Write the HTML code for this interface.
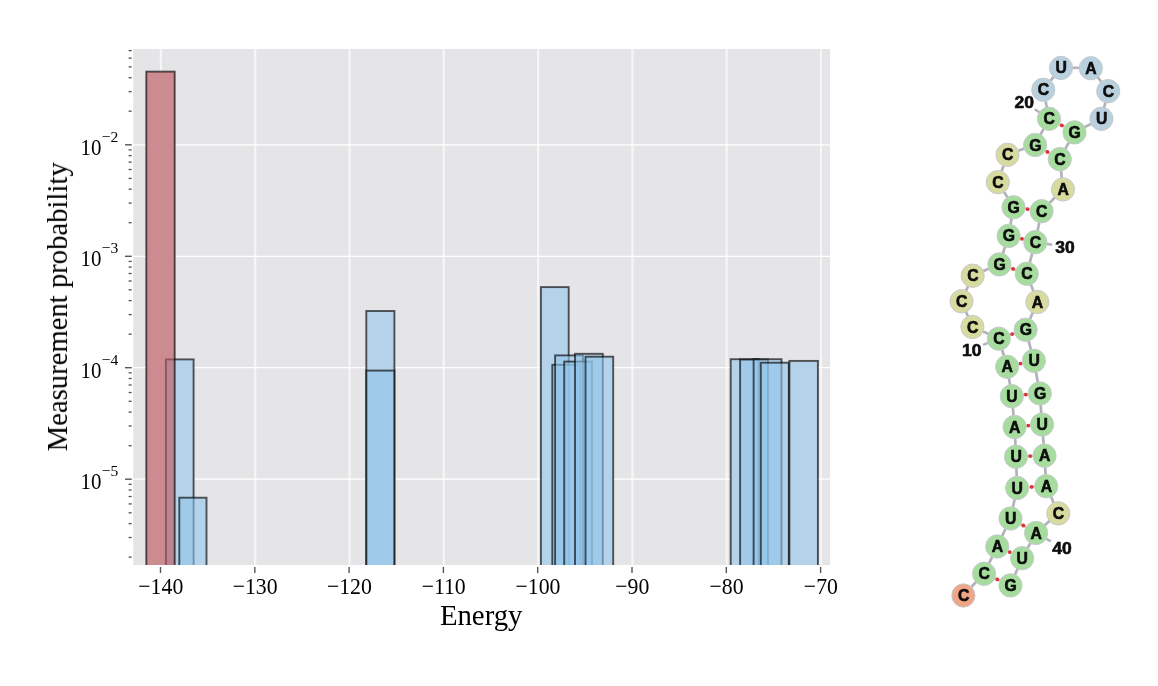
<!DOCTYPE html><html><head><meta charset="utf-8"><style>
html,body{margin:0;padding:0;background:#fff;}body{width:1158px;height:686px;overflow:hidden;position:relative;}
svg{position:absolute;left:0;top:0;}
text{font-family:"Liberation Serif",serif;fill:#000;}
.n text{font-family:"Liberation Sans",sans-serif;font-weight:bold;fill:#0a0a0a;stroke:#0a0a0a;stroke-width:0.55px;}
</style></head><body>
<svg width="1158" height="686" viewBox="0 0 1158 686">
<defs><clipPath id="cp"><rect x="133.2" y="49.0" width="696.8" height="516.0"/></clipPath>
<filter id="bl" x="-5%" y="-5%" width="110%" height="110%"><feGaussianBlur stdDeviation="0.55"/></filter>
<filter id="bl2" x="-5%" y="-5%" width="110%" height="110%"><feGaussianBlur stdDeviation="0.7"/></filter></defs>
<g filter="url(#bl)">
<rect x="133.2" y="49.0" width="696.8" height="516.0" fill="#e5e4e7"/>
<line x1="160.9" y1="49.0" x2="160.9" y2="565.0" stroke="#fff" stroke-opacity="0.66" stroke-width="2.2"/>
<line x1="255.2" y1="49.0" x2="255.2" y2="565.0" stroke="#fff" stroke-opacity="0.66" stroke-width="2.2"/>
<line x1="349.5" y1="49.0" x2="349.5" y2="565.0" stroke="#fff" stroke-opacity="0.66" stroke-width="2.2"/>
<line x1="443.8" y1="49.0" x2="443.8" y2="565.0" stroke="#fff" stroke-opacity="0.66" stroke-width="2.2"/>
<line x1="538.1" y1="49.0" x2="538.1" y2="565.0" stroke="#fff" stroke-opacity="0.66" stroke-width="2.2"/>
<line x1="632.4" y1="49.0" x2="632.4" y2="565.0" stroke="#fff" stroke-opacity="0.66" stroke-width="2.2"/>
<line x1="726.7" y1="49.0" x2="726.7" y2="565.0" stroke="#fff" stroke-opacity="0.66" stroke-width="2.2"/>
<line x1="821.0" y1="49.0" x2="821.0" y2="565.0" stroke="#fff" stroke-opacity="0.66" stroke-width="2.2"/>
<line x1="133.2" y1="479.2" x2="830.0" y2="479.2" stroke="#fff" stroke-width="1.25"/>
<line x1="133.2" y1="367.7" x2="830.0" y2="367.7" stroke="#fff" stroke-width="1.25"/>
<line x1="133.2" y1="256.3" x2="830.0" y2="256.3" stroke="#fff" stroke-width="1.25"/>
<line x1="133.2" y1="144.8" x2="830.0" y2="144.8" stroke="#fff" stroke-width="1.25"/>
<g clip-path="url(#cp)">
<rect x="165.9" y="359.4" width="27.7" height="216.6" fill="#e5e4e7"/>
<rect x="179.3" y="497.7" width="27.2" height="78.3" fill="#e5e4e7"/>
<rect x="366.3" y="311.0" width="28.1" height="265.0" fill="#e5e4e7"/>
<rect x="366.3" y="370.6" width="28.1" height="205.4" fill="#e5e4e7"/>
<rect x="540.9" y="287.1" width="27.8" height="288.9" fill="#e5e4e7"/>
<rect x="552.3" y="364.8" width="28.0" height="211.2" fill="#e5e4e7"/>
<rect x="555.1" y="355.4" width="27.9" height="220.6" fill="#e5e4e7"/>
<rect x="564.2" y="361.6" width="27.8" height="214.4" fill="#e5e4e7"/>
<rect x="575.0" y="353.8" width="27.8" height="222.2" fill="#e5e4e7"/>
<rect x="585.5" y="356.7" width="27.7" height="219.3" fill="#e5e4e7"/>
<rect x="730.7" y="359.2" width="28.0" height="216.8" fill="#e5e4e7"/>
<rect x="740.1" y="359.5" width="27.9" height="216.5" fill="#e5e4e7"/>
<rect x="753.6" y="359.2" width="27.9" height="216.8" fill="#e5e4e7"/>
<rect x="760.8" y="362.7" width="28.0" height="213.3" fill="#e5e4e7"/>
<rect x="789.4" y="360.9" width="28.5" height="215.1" fill="#e5e4e7"/>
<rect x="146.3" y="71.6" width="28.4" height="504.4" fill="#e5e4e7"/>
<rect x="165.9" y="359.4" width="27.7" height="216.6" fill="rgba(144,196,235,0.58)" stroke="rgba(0,0,0,0.64)" stroke-width="1.9"/>
<rect x="179.3" y="497.7" width="27.2" height="78.3" fill="rgba(144,196,235,0.58)" stroke="rgba(0,0,0,0.64)" stroke-width="1.9"/>
<rect x="366.3" y="311.0" width="28.1" height="265.0" fill="rgba(144,196,235,0.58)" stroke="rgba(0,0,0,0.64)" stroke-width="1.9"/>
<rect x="366.3" y="370.6" width="28.1" height="205.4" fill="rgba(144,196,235,0.58)" stroke="rgba(0,0,0,0.64)" stroke-width="1.9"/>
<rect x="540.9" y="287.1" width="27.8" height="288.9" fill="rgba(144,196,235,0.58)" stroke="rgba(0,0,0,0.64)" stroke-width="1.9"/>
<rect x="552.3" y="364.8" width="28.0" height="211.2" fill="rgba(144,196,235,0.58)" stroke="rgba(0,0,0,0.64)" stroke-width="1.9"/>
<rect x="555.1" y="355.4" width="27.9" height="220.6" fill="rgba(144,196,235,0.58)" stroke="rgba(0,0,0,0.64)" stroke-width="1.9"/>
<rect x="564.2" y="361.6" width="27.8" height="214.4" fill="rgba(144,196,235,0.58)" stroke="rgba(0,0,0,0.64)" stroke-width="1.9"/>
<rect x="575.0" y="353.8" width="27.8" height="222.2" fill="rgba(144,196,235,0.58)" stroke="rgba(0,0,0,0.64)" stroke-width="1.9"/>
<rect x="585.5" y="356.7" width="27.7" height="219.3" fill="rgba(144,196,235,0.58)" stroke="rgba(0,0,0,0.64)" stroke-width="1.9"/>
<rect x="730.7" y="359.2" width="28.0" height="216.8" fill="rgba(144,196,235,0.58)" stroke="rgba(0,0,0,0.64)" stroke-width="1.9"/>
<rect x="740.1" y="359.5" width="27.9" height="216.5" fill="rgba(144,196,235,0.58)" stroke="rgba(0,0,0,0.64)" stroke-width="1.9"/>
<rect x="753.6" y="359.2" width="27.9" height="216.8" fill="rgba(144,196,235,0.58)" stroke="rgba(0,0,0,0.64)" stroke-width="1.9"/>
<rect x="760.8" y="362.7" width="28.0" height="213.3" fill="rgba(144,196,235,0.58)" stroke="rgba(0,0,0,0.64)" stroke-width="1.9"/>
<rect x="789.4" y="360.9" width="28.5" height="215.1" fill="rgba(144,196,235,0.58)" stroke="rgba(0,0,0,0.64)" stroke-width="1.9"/>
<rect x="146.3" y="71.6" width="28.4" height="504.4" fill="rgba(189,87,97,0.64)" stroke="rgba(0,0,0,0.64)" stroke-width="1.9"/>
</g>
<line x1="160.5" y1="567.0" x2="160.5" y2="573.0" stroke="#555" stroke-width="1.4"/>
<text transform="translate(160.8,593.9) scale(0.99,1.09)" font-size="22" text-anchor="middle">−140</text>
<line x1="254.8" y1="567.0" x2="254.8" y2="573.0" stroke="#555" stroke-width="1.4"/>
<text transform="translate(255.1,593.9) scale(0.99,1.09)" font-size="22" text-anchor="middle">−130</text>
<line x1="349.1" y1="567.0" x2="349.1" y2="573.0" stroke="#555" stroke-width="1.4"/>
<text transform="translate(349.4,593.9) scale(0.99,1.09)" font-size="22" text-anchor="middle">−120</text>
<line x1="443.4" y1="567.0" x2="443.4" y2="573.0" stroke="#555" stroke-width="1.4"/>
<text transform="translate(443.7,593.9) scale(0.99,1.09)" font-size="22" text-anchor="middle">−110</text>
<line x1="537.7" y1="567.0" x2="537.7" y2="573.0" stroke="#555" stroke-width="1.4"/>
<text transform="translate(538.0,593.9) scale(0.99,1.09)" font-size="22" text-anchor="middle">−100</text>
<line x1="632.0" y1="567.0" x2="632.0" y2="573.0" stroke="#555" stroke-width="1.4"/>
<text transform="translate(632.3,593.9) scale(0.99,1.09)" font-size="22" text-anchor="middle">−90</text>
<line x1="726.3" y1="567.0" x2="726.3" y2="573.0" stroke="#555" stroke-width="1.4"/>
<text transform="translate(726.6,593.9) scale(0.99,1.09)" font-size="22" text-anchor="middle">−80</text>
<line x1="820.6" y1="567.0" x2="820.6" y2="573.0" stroke="#555" stroke-width="1.4"/>
<text transform="translate(820.9,593.9) scale(0.99,1.09)" font-size="22" text-anchor="middle">−70</text>
<line x1="125.0" y1="479.2" x2="131.7" y2="479.2" stroke="#555" stroke-width="1.4"/>
<text transform="translate(80.6,489.3) scale(0.95,1.06)" font-size="22">10</text>
<text x="101.8" y="476.3" font-size="15.6">−5</text>
<line x1="125.0" y1="367.7" x2="131.7" y2="367.7" stroke="#555" stroke-width="1.4"/>
<text transform="translate(80.6,377.8) scale(0.95,1.06)" font-size="22">10</text>
<text x="101.8" y="364.8" font-size="15.6">−4</text>
<line x1="125.0" y1="256.3" x2="131.7" y2="256.3" stroke="#555" stroke-width="1.4"/>
<text transform="translate(80.6,266.4) scale(0.95,1.06)" font-size="22">10</text>
<text x="101.8" y="253.4" font-size="15.6">−3</text>
<line x1="125.0" y1="144.8" x2="131.7" y2="144.8" stroke="#555" stroke-width="1.4"/>
<text transform="translate(80.6,154.9) scale(0.95,1.06)" font-size="22">10</text>
<text x="101.8" y="141.9" font-size="15.6">−2</text>
<line x1="128.6" y1="557.1" x2="131.7" y2="557.1" stroke="#555" stroke-width="1.3"/>
<line x1="128.6" y1="537.5" x2="131.7" y2="537.5" stroke="#555" stroke-width="1.3"/>
<line x1="128.6" y1="523.6" x2="131.7" y2="523.6" stroke="#555" stroke-width="1.3"/>
<line x1="128.6" y1="512.8" x2="131.7" y2="512.8" stroke="#555" stroke-width="1.3"/>
<line x1="128.6" y1="503.9" x2="131.7" y2="503.9" stroke="#555" stroke-width="1.3"/>
<line x1="128.6" y1="496.5" x2="131.7" y2="496.5" stroke="#555" stroke-width="1.3"/>
<line x1="128.6" y1="490.0" x2="131.7" y2="490.0" stroke="#555" stroke-width="1.3"/>
<line x1="128.6" y1="484.3" x2="131.7" y2="484.3" stroke="#555" stroke-width="1.3"/>
<line x1="128.6" y1="445.7" x2="131.7" y2="445.7" stroke="#555" stroke-width="1.3"/>
<line x1="128.6" y1="426.0" x2="131.7" y2="426.0" stroke="#555" stroke-width="1.3"/>
<line x1="128.6" y1="412.1" x2="131.7" y2="412.1" stroke="#555" stroke-width="1.3"/>
<line x1="128.6" y1="401.3" x2="131.7" y2="401.3" stroke="#555" stroke-width="1.3"/>
<line x1="128.6" y1="392.5" x2="131.7" y2="392.5" stroke="#555" stroke-width="1.3"/>
<line x1="128.6" y1="385.0" x2="131.7" y2="385.0" stroke="#555" stroke-width="1.3"/>
<line x1="128.6" y1="378.5" x2="131.7" y2="378.5" stroke="#555" stroke-width="1.3"/>
<line x1="128.6" y1="372.8" x2="131.7" y2="372.8" stroke="#555" stroke-width="1.3"/>
<line x1="128.6" y1="334.2" x2="131.7" y2="334.2" stroke="#555" stroke-width="1.3"/>
<line x1="128.6" y1="314.6" x2="131.7" y2="314.6" stroke="#555" stroke-width="1.3"/>
<line x1="128.6" y1="300.6" x2="131.7" y2="300.6" stroke="#555" stroke-width="1.3"/>
<line x1="128.6" y1="289.8" x2="131.7" y2="289.8" stroke="#555" stroke-width="1.3"/>
<line x1="128.6" y1="281.0" x2="131.7" y2="281.0" stroke="#555" stroke-width="1.3"/>
<line x1="128.6" y1="273.5" x2="131.7" y2="273.5" stroke="#555" stroke-width="1.3"/>
<line x1="128.6" y1="267.1" x2="131.7" y2="267.1" stroke="#555" stroke-width="1.3"/>
<line x1="128.6" y1="261.4" x2="131.7" y2="261.4" stroke="#555" stroke-width="1.3"/>
<line x1="128.6" y1="222.7" x2="131.7" y2="222.7" stroke="#555" stroke-width="1.3"/>
<line x1="128.6" y1="203.1" x2="131.7" y2="203.1" stroke="#555" stroke-width="1.3"/>
<line x1="128.6" y1="189.2" x2="131.7" y2="189.2" stroke="#555" stroke-width="1.3"/>
<line x1="128.6" y1="178.4" x2="131.7" y2="178.4" stroke="#555" stroke-width="1.3"/>
<line x1="128.6" y1="169.5" x2="131.7" y2="169.5" stroke="#555" stroke-width="1.3"/>
<line x1="128.6" y1="162.1" x2="131.7" y2="162.1" stroke="#555" stroke-width="1.3"/>
<line x1="128.6" y1="155.6" x2="131.7" y2="155.6" stroke="#555" stroke-width="1.3"/>
<line x1="128.6" y1="149.9" x2="131.7" y2="149.9" stroke="#555" stroke-width="1.3"/>
<line x1="128.6" y1="111.2" x2="131.7" y2="111.2" stroke="#555" stroke-width="1.3"/>
<line x1="128.6" y1="91.6" x2="131.7" y2="91.6" stroke="#555" stroke-width="1.3"/>
<line x1="128.6" y1="77.7" x2="131.7" y2="77.7" stroke="#555" stroke-width="1.3"/>
<line x1="128.6" y1="66.9" x2="131.7" y2="66.9" stroke="#555" stroke-width="1.3"/>
<line x1="128.6" y1="58.1" x2="131.7" y2="58.1" stroke="#555" stroke-width="1.3"/>
<line x1="128.6" y1="50.6" x2="131.7" y2="50.6" stroke="#555" stroke-width="1.3"/>
<text x="481.2" y="625.3" font-size="28.8" text-anchor="middle">Energy</text>
<text transform="translate(67.0,306.8) rotate(-90)" font-size="28.7" text-anchor="middle">Measurement probability</text>
</g>
<g class="n" filter="url(#bl2)">
<line x1="963.4" y1="595.3" x2="984.1" y2="573.6" stroke="#b2b2ba" stroke-width="2.7"/>
<line x1="984.1" y1="573.6" x2="997.2" y2="546.3" stroke="#b2b2ba" stroke-width="2.7"/>
<line x1="997.2" y1="546.3" x2="1010.5" y2="518.3" stroke="#b2b2ba" stroke-width="2.7"/>
<line x1="1010.5" y1="518.3" x2="1017.1" y2="487.8" stroke="#b2b2ba" stroke-width="2.7"/>
<line x1="1017.1" y1="487.8" x2="1016.0" y2="456.6" stroke="#b2b2ba" stroke-width="2.7"/>
<line x1="1016.0" y1="456.6" x2="1014.6" y2="426.8" stroke="#b2b2ba" stroke-width="2.7"/>
<line x1="1014.6" y1="426.8" x2="1011.8" y2="396.0" stroke="#b2b2ba" stroke-width="2.7"/>
<line x1="1011.8" y1="396.0" x2="1007.1" y2="366.6" stroke="#b2b2ba" stroke-width="2.7"/>
<line x1="1007.1" y1="366.6" x2="998.8" y2="338.5" stroke="#b2b2ba" stroke-width="2.7"/>
<line x1="998.8" y1="338.5" x2="972.4" y2="326.8" stroke="#b2b2ba" stroke-width="2.7"/>
<line x1="972.4" y1="326.8" x2="961.5" y2="301.1" stroke="#b2b2ba" stroke-width="2.7"/>
<line x1="961.5" y1="301.1" x2="972.7" y2="275.5" stroke="#b2b2ba" stroke-width="2.7"/>
<line x1="972.7" y1="275.5" x2="999.4" y2="264.2" stroke="#b2b2ba" stroke-width="2.7"/>
<line x1="999.4" y1="264.2" x2="1008.6" y2="235.7" stroke="#b2b2ba" stroke-width="2.7"/>
<line x1="1008.6" y1="235.7" x2="1013.5" y2="207.1" stroke="#b2b2ba" stroke-width="2.7"/>
<line x1="1013.5" y1="207.1" x2="997.8" y2="182.0" stroke="#b2b2ba" stroke-width="2.7"/>
<line x1="997.8" y1="182.0" x2="1007.5" y2="154.6" stroke="#b2b2ba" stroke-width="2.7"/>
<line x1="1007.5" y1="154.6" x2="1035.1" y2="144.8" stroke="#b2b2ba" stroke-width="2.7"/>
<line x1="1035.1" y1="144.8" x2="1049.0" y2="118.6" stroke="#b2b2ba" stroke-width="2.7"/>
<line x1="1049.0" y1="118.6" x2="1043.3" y2="89.6" stroke="#b2b2ba" stroke-width="2.7"/>
<line x1="1043.3" y1="89.6" x2="1061.0" y2="67.7" stroke="#b2b2ba" stroke-width="2.7"/>
<line x1="1061.0" y1="67.7" x2="1090.8" y2="68.0" stroke="#b2b2ba" stroke-width="2.7"/>
<line x1="1090.8" y1="68.0" x2="1108.2" y2="91.0" stroke="#b2b2ba" stroke-width="2.7"/>
<line x1="1108.2" y1="91.0" x2="1101.4" y2="118.6" stroke="#b2b2ba" stroke-width="2.7"/>
<line x1="1101.4" y1="118.6" x2="1074.5" y2="132.2" stroke="#b2b2ba" stroke-width="2.7"/>
<line x1="1074.5" y1="132.2" x2="1059.8" y2="159.0" stroke="#b2b2ba" stroke-width="2.7"/>
<line x1="1059.8" y1="159.0" x2="1063.0" y2="189.2" stroke="#b2b2ba" stroke-width="2.7"/>
<line x1="1063.0" y1="189.2" x2="1041.6" y2="211.0" stroke="#b2b2ba" stroke-width="2.7"/>
<line x1="1041.6" y1="211.0" x2="1035.3" y2="242.0" stroke="#b2b2ba" stroke-width="2.7"/>
<line x1="1035.3" y1="242.0" x2="1026.8" y2="273.6" stroke="#b2b2ba" stroke-width="2.7"/>
<line x1="1026.8" y1="273.6" x2="1037.3" y2="301.8" stroke="#b2b2ba" stroke-width="2.7"/>
<line x1="1037.3" y1="301.8" x2="1025.6" y2="329.6" stroke="#b2b2ba" stroke-width="2.7"/>
<line x1="1025.6" y1="329.6" x2="1033.9" y2="360.6" stroke="#b2b2ba" stroke-width="2.7"/>
<line x1="1033.9" y1="360.6" x2="1039.8" y2="393.2" stroke="#b2b2ba" stroke-width="2.7"/>
<line x1="1039.8" y1="393.2" x2="1042.1" y2="424.4" stroke="#b2b2ba" stroke-width="2.7"/>
<line x1="1042.1" y1="424.4" x2="1044.5" y2="455.5" stroke="#b2b2ba" stroke-width="2.7"/>
<line x1="1044.5" y1="455.5" x2="1046.2" y2="486.0" stroke="#b2b2ba" stroke-width="2.7"/>
<line x1="1046.2" y1="486.0" x2="1058.3" y2="513.2" stroke="#b2b2ba" stroke-width="2.7"/>
<line x1="1058.3" y1="513.2" x2="1036.1" y2="532.8" stroke="#b2b2ba" stroke-width="2.7"/>
<line x1="1036.1" y1="532.8" x2="1022.1" y2="558.0" stroke="#b2b2ba" stroke-width="2.7"/>
<line x1="1022.1" y1="558.0" x2="1010.5" y2="585.2" stroke="#b2b2ba" stroke-width="2.7"/>
<line x1="984.1" y1="573.6" x2="1010.5" y2="585.2" stroke="#c8c8d0" stroke-width="2.5"/>
<line x1="997.2" y1="546.3" x2="1022.1" y2="558.0" stroke="#c8c8d0" stroke-width="2.5"/>
<line x1="1010.5" y1="518.3" x2="1036.1" y2="532.8" stroke="#c8c8d0" stroke-width="2.5"/>
<line x1="1017.1" y1="487.8" x2="1046.2" y2="486.0" stroke="#c8c8d0" stroke-width="2.5"/>
<line x1="1016.0" y1="456.6" x2="1044.5" y2="455.5" stroke="#c8c8d0" stroke-width="2.5"/>
<line x1="1014.6" y1="426.8" x2="1042.1" y2="424.4" stroke="#c8c8d0" stroke-width="2.5"/>
<line x1="1011.8" y1="396.0" x2="1039.8" y2="393.2" stroke="#c8c8d0" stroke-width="2.5"/>
<line x1="1007.1" y1="366.6" x2="1033.9" y2="360.6" stroke="#c8c8d0" stroke-width="2.5"/>
<line x1="998.8" y1="338.5" x2="1025.6" y2="329.6" stroke="#c8c8d0" stroke-width="2.5"/>
<line x1="999.4" y1="264.2" x2="1026.8" y2="273.6" stroke="#c8c8d0" stroke-width="2.5"/>
<line x1="1008.6" y1="235.7" x2="1035.3" y2="242.0" stroke="#c8c8d0" stroke-width="2.5"/>
<line x1="1013.5" y1="207.1" x2="1041.6" y2="211.0" stroke="#c8c8d0" stroke-width="2.5"/>
<line x1="1035.1" y1="144.8" x2="1059.8" y2="159.0" stroke="#c8c8d0" stroke-width="2.5"/>
<line x1="1049.0" y1="118.6" x2="1074.5" y2="132.2" stroke="#c8c8d0" stroke-width="2.5"/>
<line x1="998.8" y1="338.5" x2="983.1" y2="344.9" stroke="#b4b4bc" stroke-width="2.5"/>
<line x1="1049.0" y1="118.6" x2="1034.8" y2="109.2" stroke="#b4b4bc" stroke-width="2.5"/>
<line x1="1035.3" y1="242.0" x2="1052.1" y2="244.7" stroke="#b4b4bc" stroke-width="2.5"/>
<line x1="1036.1" y1="532.8" x2="1050.8" y2="541.4" stroke="#b4b4bc" stroke-width="2.5"/>
<circle cx="997.3" cy="579.4" r="1.9" fill="#e03030"/>
<circle cx="1009.7" cy="552.1" r="1.9" fill="#e03030"/>
<circle cx="1023.3" cy="525.5" r="1.9" fill="#e03030"/>
<circle cx="1031.7" cy="486.9" r="1.9" fill="#e03030"/>
<circle cx="1030.2" cy="456.1" r="1.9" fill="#e03030"/>
<circle cx="1028.3" cy="425.6" r="1.9" fill="#e03030"/>
<circle cx="1025.8" cy="394.6" r="1.9" fill="#e03030"/>
<circle cx="1020.5" cy="363.6" r="1.9" fill="#e03030"/>
<circle cx="1012.2" cy="334.1" r="1.9" fill="#e03030"/>
<circle cx="1013.1" cy="268.9" r="1.9" fill="#e03030"/>
<circle cx="1022.0" cy="238.8" r="1.9" fill="#e03030"/>
<circle cx="1027.5" cy="209.1" r="1.9" fill="#e03030"/>
<circle cx="1047.4" cy="151.9" r="1.9" fill="#e03030"/>
<circle cx="1061.8" cy="125.4" r="1.9" fill="#e03030"/>
<ellipse cx="963.4" cy="595.5" rx="11.6" ry="11.7" fill="#f0a686" stroke="#c6cace" stroke-width="1"/>
<ellipse cx="984.1" cy="573.8" rx="11.6" ry="11.7" fill="#a6dc9e" stroke="#c6cace" stroke-width="1"/>
<ellipse cx="997.2" cy="546.5" rx="11.6" ry="11.7" fill="#a6dc9e" stroke="#c6cace" stroke-width="1"/>
<ellipse cx="1010.5" cy="518.5" rx="11.6" ry="11.7" fill="#a6dc9e" stroke="#c6cace" stroke-width="1"/>
<ellipse cx="1017.1" cy="488.0" rx="11.6" ry="11.7" fill="#a6dc9e" stroke="#c6cace" stroke-width="1"/>
<ellipse cx="1016.0" cy="456.8" rx="11.6" ry="11.7" fill="#a6dc9e" stroke="#c6cace" stroke-width="1"/>
<ellipse cx="1014.6" cy="427.0" rx="11.6" ry="11.7" fill="#a6dc9e" stroke="#c6cace" stroke-width="1"/>
<ellipse cx="1011.8" cy="396.2" rx="11.6" ry="11.7" fill="#a6dc9e" stroke="#c6cace" stroke-width="1"/>
<ellipse cx="1007.1" cy="366.8" rx="11.6" ry="11.7" fill="#a6dc9e" stroke="#c6cace" stroke-width="1"/>
<ellipse cx="998.8" cy="338.7" rx="11.6" ry="11.7" fill="#a6dc9e" stroke="#c6cace" stroke-width="1"/>
<ellipse cx="972.4" cy="327.0" rx="11.6" ry="11.7" fill="#d8dba0" stroke="#c6cace" stroke-width="1"/>
<ellipse cx="961.5" cy="301.3" rx="11.6" ry="11.7" fill="#d8dba0" stroke="#c6cace" stroke-width="1"/>
<ellipse cx="972.7" cy="275.7" rx="11.6" ry="11.7" fill="#d8dba0" stroke="#c6cace" stroke-width="1"/>
<ellipse cx="999.4" cy="264.4" rx="11.6" ry="11.7" fill="#a6dc9e" stroke="#c6cace" stroke-width="1"/>
<ellipse cx="1008.6" cy="235.9" rx="11.6" ry="11.7" fill="#a6dc9e" stroke="#c6cace" stroke-width="1"/>
<ellipse cx="1013.5" cy="207.3" rx="11.6" ry="11.7" fill="#a6dc9e" stroke="#c6cace" stroke-width="1"/>
<ellipse cx="997.8" cy="182.2" rx="11.6" ry="11.7" fill="#d8dba0" stroke="#c6cace" stroke-width="1"/>
<ellipse cx="1007.5" cy="154.8" rx="11.6" ry="11.7" fill="#d8dba0" stroke="#c6cace" stroke-width="1"/>
<ellipse cx="1035.1" cy="145.0" rx="11.6" ry="11.7" fill="#a6dc9e" stroke="#c6cace" stroke-width="1"/>
<ellipse cx="1049.0" cy="118.8" rx="11.6" ry="11.7" fill="#a6dc9e" stroke="#c6cace" stroke-width="1"/>
<ellipse cx="1043.3" cy="89.8" rx="11.6" ry="11.7" fill="#b9d1de" stroke="#c6cace" stroke-width="1"/>
<ellipse cx="1061.0" cy="67.9" rx="11.6" ry="11.7" fill="#b9d1de" stroke="#c6cace" stroke-width="1"/>
<ellipse cx="1090.8" cy="68.2" rx="11.6" ry="11.7" fill="#b9d1de" stroke="#c6cace" stroke-width="1"/>
<ellipse cx="1108.2" cy="91.2" rx="11.6" ry="11.7" fill="#b9d1de" stroke="#c6cace" stroke-width="1"/>
<ellipse cx="1101.4" cy="118.8" rx="11.6" ry="11.7" fill="#b9d1de" stroke="#c6cace" stroke-width="1"/>
<ellipse cx="1074.5" cy="132.4" rx="11.6" ry="11.7" fill="#a6dc9e" stroke="#c6cace" stroke-width="1"/>
<ellipse cx="1059.8" cy="159.2" rx="11.6" ry="11.7" fill="#a6dc9e" stroke="#c6cace" stroke-width="1"/>
<ellipse cx="1063.0" cy="189.4" rx="11.6" ry="11.7" fill="#d8dba0" stroke="#c6cace" stroke-width="1"/>
<ellipse cx="1041.6" cy="211.2" rx="11.6" ry="11.7" fill="#a6dc9e" stroke="#c6cace" stroke-width="1"/>
<ellipse cx="1035.3" cy="242.2" rx="11.6" ry="11.7" fill="#a6dc9e" stroke="#c6cace" stroke-width="1"/>
<ellipse cx="1026.8" cy="273.8" rx="11.6" ry="11.7" fill="#a6dc9e" stroke="#c6cace" stroke-width="1"/>
<ellipse cx="1037.3" cy="302.0" rx="11.6" ry="11.7" fill="#d8dba0" stroke="#c6cace" stroke-width="1"/>
<ellipse cx="1025.6" cy="329.8" rx="11.6" ry="11.7" fill="#a6dc9e" stroke="#c6cace" stroke-width="1"/>
<ellipse cx="1033.9" cy="360.8" rx="11.6" ry="11.7" fill="#a6dc9e" stroke="#c6cace" stroke-width="1"/>
<ellipse cx="1039.8" cy="393.4" rx="11.6" ry="11.7" fill="#a6dc9e" stroke="#c6cace" stroke-width="1"/>
<ellipse cx="1042.1" cy="424.6" rx="11.6" ry="11.7" fill="#a6dc9e" stroke="#c6cace" stroke-width="1"/>
<ellipse cx="1044.5" cy="455.7" rx="11.6" ry="11.7" fill="#a6dc9e" stroke="#c6cace" stroke-width="1"/>
<ellipse cx="1046.2" cy="486.2" rx="11.6" ry="11.7" fill="#a6dc9e" stroke="#c6cace" stroke-width="1"/>
<ellipse cx="1058.3" cy="513.4" rx="11.6" ry="11.7" fill="#d8dba0" stroke="#c6cace" stroke-width="1"/>
<ellipse cx="1036.1" cy="533.0" rx="11.6" ry="11.7" fill="#a6dc9e" stroke="#c6cace" stroke-width="1"/>
<ellipse cx="1022.1" cy="558.2" rx="11.6" ry="11.7" fill="#a6dc9e" stroke="#c6cace" stroke-width="1"/>
<ellipse cx="1010.5" cy="585.4" rx="11.6" ry="11.7" fill="#a6dc9e" stroke="#c6cace" stroke-width="1"/>
<text transform="translate(963.6,601.0) scale(1.05,1.08)" font-size="15" text-anchor="middle">C</text>
<text transform="translate(984.3,579.3) scale(1.05,1.08)" font-size="15" text-anchor="middle">C</text>
<text transform="translate(997.4,552.0) scale(1.05,1.08)" font-size="15" text-anchor="middle">A</text>
<text transform="translate(1010.7,524.0) scale(1.05,1.08)" font-size="15" text-anchor="middle">U</text>
<text transform="translate(1017.3,493.5) scale(1.05,1.08)" font-size="15" text-anchor="middle">U</text>
<text transform="translate(1016.2,462.3) scale(1.05,1.08)" font-size="15" text-anchor="middle">U</text>
<text transform="translate(1014.8,432.5) scale(1.05,1.08)" font-size="15" text-anchor="middle">A</text>
<text transform="translate(1012.0,401.7) scale(1.05,1.08)" font-size="15" text-anchor="middle">U</text>
<text transform="translate(1007.3,372.3) scale(1.05,1.08)" font-size="15" text-anchor="middle">A</text>
<text transform="translate(999.0,344.2) scale(1.05,1.08)" font-size="15" text-anchor="middle">C</text>
<text transform="translate(972.6,332.5) scale(1.05,1.08)" font-size="15" text-anchor="middle">C</text>
<text transform="translate(961.7,306.8) scale(1.05,1.08)" font-size="15" text-anchor="middle">C</text>
<text transform="translate(972.9,281.2) scale(1.05,1.08)" font-size="15" text-anchor="middle">C</text>
<text transform="translate(999.6,269.9) scale(1.05,1.08)" font-size="15" text-anchor="middle">G</text>
<text transform="translate(1008.8,241.4) scale(1.05,1.08)" font-size="15" text-anchor="middle">G</text>
<text transform="translate(1013.7,212.8) scale(1.05,1.08)" font-size="15" text-anchor="middle">G</text>
<text transform="translate(998.0,187.7) scale(1.05,1.08)" font-size="15" text-anchor="middle">C</text>
<text transform="translate(1007.7,160.3) scale(1.05,1.08)" font-size="15" text-anchor="middle">C</text>
<text transform="translate(1035.3,150.5) scale(1.05,1.08)" font-size="15" text-anchor="middle">G</text>
<text transform="translate(1049.2,124.3) scale(1.05,1.08)" font-size="15" text-anchor="middle">C</text>
<text transform="translate(1043.5,95.3) scale(1.05,1.08)" font-size="15" text-anchor="middle">C</text>
<text transform="translate(1061.2,73.4) scale(1.05,1.08)" font-size="15" text-anchor="middle">U</text>
<text transform="translate(1091.0,73.7) scale(1.05,1.08)" font-size="15" text-anchor="middle">A</text>
<text transform="translate(1108.4,96.7) scale(1.05,1.08)" font-size="15" text-anchor="middle">C</text>
<text transform="translate(1101.6,124.3) scale(1.05,1.08)" font-size="15" text-anchor="middle">U</text>
<text transform="translate(1074.7,137.9) scale(1.05,1.08)" font-size="15" text-anchor="middle">G</text>
<text transform="translate(1060.0,164.7) scale(1.05,1.08)" font-size="15" text-anchor="middle">C</text>
<text transform="translate(1063.2,194.9) scale(1.05,1.08)" font-size="15" text-anchor="middle">A</text>
<text transform="translate(1041.8,216.7) scale(1.05,1.08)" font-size="15" text-anchor="middle">C</text>
<text transform="translate(1035.5,247.7) scale(1.05,1.08)" font-size="15" text-anchor="middle">C</text>
<text transform="translate(1027.0,279.3) scale(1.05,1.08)" font-size="15" text-anchor="middle">C</text>
<text transform="translate(1037.5,307.5) scale(1.05,1.08)" font-size="15" text-anchor="middle">A</text>
<text transform="translate(1025.8,335.3) scale(1.05,1.08)" font-size="15" text-anchor="middle">G</text>
<text transform="translate(1034.1,366.3) scale(1.05,1.08)" font-size="15" text-anchor="middle">U</text>
<text transform="translate(1040.0,398.9) scale(1.05,1.08)" font-size="15" text-anchor="middle">G</text>
<text transform="translate(1042.3,430.1) scale(1.05,1.08)" font-size="15" text-anchor="middle">U</text>
<text transform="translate(1044.7,461.2) scale(1.05,1.08)" font-size="15" text-anchor="middle">A</text>
<text transform="translate(1046.4,491.7) scale(1.05,1.08)" font-size="15" text-anchor="middle">A</text>
<text transform="translate(1058.5,518.9) scale(1.05,1.08)" font-size="15" text-anchor="middle">C</text>
<text transform="translate(1036.3,538.5) scale(1.05,1.08)" font-size="15" text-anchor="middle">A</text>
<text transform="translate(1022.3,563.7) scale(1.05,1.08)" font-size="15" text-anchor="middle">U</text>
<text transform="translate(1010.7,590.9) scale(1.05,1.08)" font-size="15" text-anchor="middle">G</text>
<text transform="translate(971.7,355.6) scale(1.06,1.0)" font-size="16.5" text-anchor="middle">10</text>
<text transform="translate(1024.2,108.0) scale(1.06,1.0)" font-size="16.5" text-anchor="middle">20</text>
<text transform="translate(1065.0,252.8) scale(1.06,1.0)" font-size="16.5" text-anchor="middle">30</text>
<text transform="translate(1062.0,553.9) scale(1.06,1.0)" font-size="16.5" text-anchor="middle">40</text>
</g>
</svg></body></html>
